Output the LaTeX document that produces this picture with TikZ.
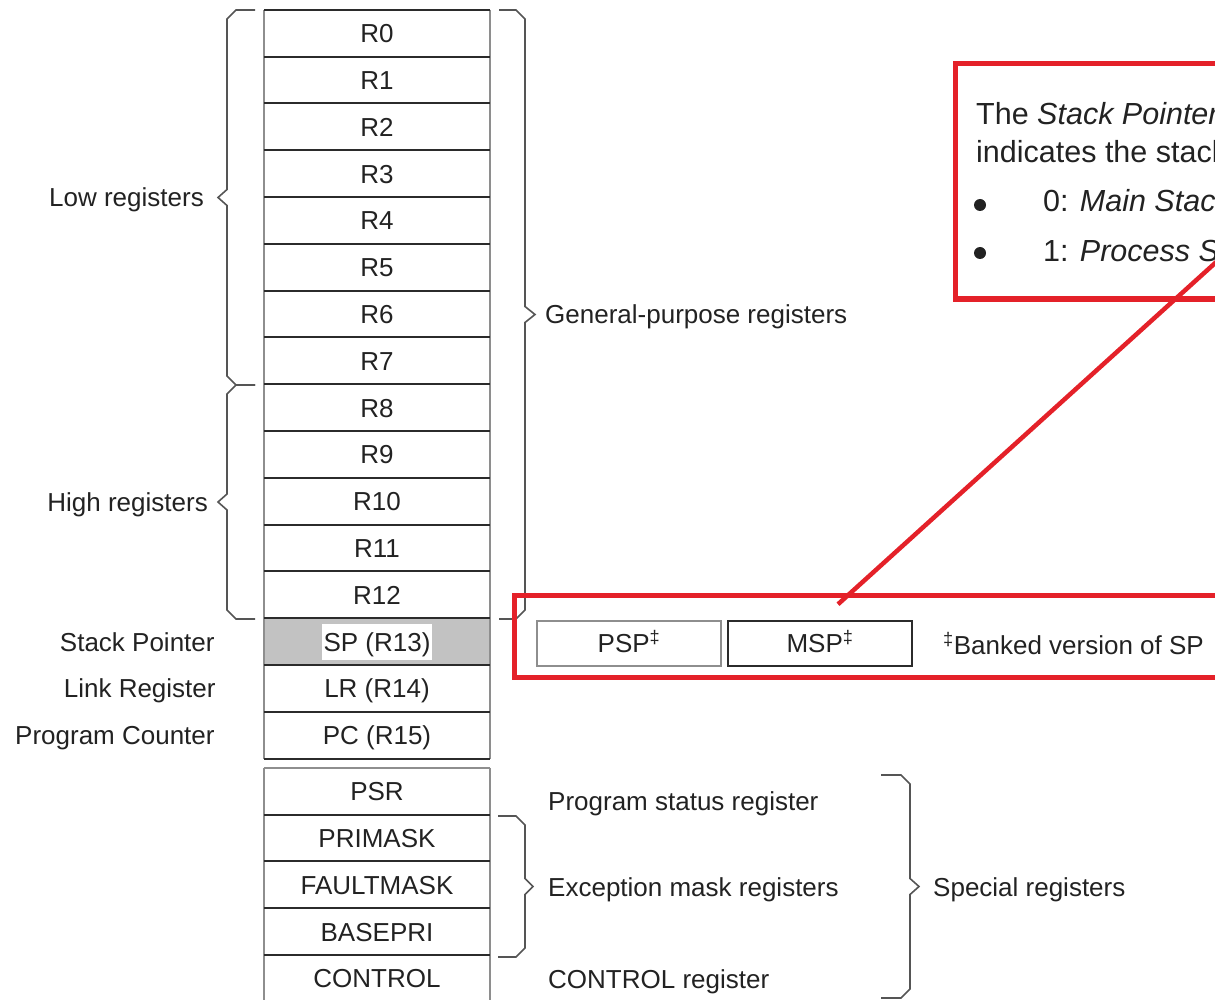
\documentclass[tikz,border=0pt]{standalone}
\usepackage{fontspec}
\setmainfont{Liberation Sans}
\usetikzlibrary{calc}

\definecolor{ink}{HTML}{222222}
\definecolor{rule}{HTML}{2B2B2B}
\definecolor{edge}{HTML}{8E8E8E}
\definecolor{bracegray}{HTML}{555555}
\definecolor{spgray}{HTML}{C2C2C2}
\definecolor{markred}{HTML}{E42129}

% chamfered curly brace: #1 x of open ends, #2 x of spine, #3 x of tip, #4 top y, #5 bottom y
\newcommand\chbrace[5]{%
  \draw[brace] (#1,#4) -- ({#2+9*sign(#1-#2)},#4) -- (#2,{#4+9})
    -- (#2,{(#4+#5)/2-8}) -- (#3,{(#4+#5)/2}) -- (#2,{(#4+#5)/2+8})
    -- (#2,{#5-9}) -- ({#2+9*sign(#1-#2)},#5) -- (#1,#5);}

\tikzset{
  lbl/.style={font=\fontsize{26}{30}\selectfont, text=ink, inner sep=0pt,
    text height=18.6pt, text depth=0pt},
  reg/.style={lbl, minimum width=226pt, minimum height=46.8pt},
  hsep/.style={draw=rule, line width=2pt},
  vsep/.style={draw=edge, line width=2pt},
  brace/.style={draw=bracegray, line width=1.6pt, line join=miter},
  bankbox/.style={lbl, line width=1.5pt, minimum width=184pt, minimum height=45pt},
  redmark/.style={draw=markred, line width=5pt},
  callout/.style={font=\fontsize{30.5}{36}\selectfont, text=ink,
    inner sep=0pt, anchor=base west},
  dot/.style={circle, fill=ink, inner sep=0pt, minimum size=12pt},
}

\begin{document}
\begin{tikzpicture}[x=1pt, y=-1pt]
\useasboundingbox (0,0) rectangle (1215,1000);
\clip (0,0) rectangle (1215,1000);

% core registers R0-R15
\foreach \n/\t [count=\i from 0] in {r0/R0,r1/R1,r2/R2,r3/R3,r4/R4,r5/R5,r6/R6,
    r7/R7,r8/R8,r9/R9,r10/R10,r11/R11,r12/R12}
  \node[reg] (\n) at (377,{10+46.8*(\i+0.5)}) {\t};
\node[reg, fill=spgray,
  label={[lbl, fill=white, inner xsep=2pt, inner ysep=8.7pt]center:SP (R13)}]
  (sp) at (377,{10+46.8*13.5}) {};
\node[reg] (lr) at (377,{10+46.8*14.5}) {LR (R14)};
\node[reg] (pc) at (377,{10+46.8*15.5}) {PC (R15)};

% special registers
\foreach \n/\t [count=\i from 0] in {psr/PSR,primask/PRIMASK,faultmask/FAULTMASK,
    basepri/BASEPRI,control/CONTROL}
  \node[reg] (\n) at (377,{768+46.8*(\i+0.5)}) {\t};

% column outlines
\draw[vsep] (r0.north west) -- (pc.south west);
\draw[vsep] (r0.north east) -- (pc.south east);
\foreach \n in {r0,r1,r2,r3,r4,r5,r6,r7,r8,r9,r10,r11,r12,sp,lr,pc}
  \draw[hsep] (\n.north west) -- (\n.north east);
\draw[hsep] (pc.south west) -- (pc.south east);

\draw[vsep] (psr.north west) -- (control.south west);
\draw[vsep] (psr.north east) -- (control.south east);
\draw[vsep] (psr.north west) -- (psr.north east);
\foreach \n in {primask,faultmask,basepri,control}
  \draw[hsep] (\n.north west) -- (\n.north east);

% braces
\chbrace{255}{227}{218}{10}{385}
\chbrace{255}{227}{218}{385}{619}
\chbrace{499}{525}{535}{10}{619}
\chbrace{498}{525}{533}{816}{957}
\chbrace{881}{910}{919}{775}{998}

% group labels
\node[lbl, anchor=east] (lowlbl) at (204,197.5) {Low registers};
\node[lbl, anchor=east] (highlbl) at (208,502) {High registers};
\node[lbl, anchor=west] (gplbl) at (545,314.5) {General-purpose registers};
\node[lbl, anchor=east] (splbl) at ($(sp.west)+(-49,0)$) {Stack Pointer};
\node[lbl, anchor=east] (lrlbl) at ($(lr.west)+(-48,0)$) {Link Register};
\node[lbl, anchor=east] (pclbl) at ($(pc.west)+(-49,0)$) {Program Counter};
\node[lbl, anchor=west] (psrlbl) at (548,801) {Program status register};
\node[lbl, anchor=west] (exclbl) at (548,887) {Exception mask registers};
\node[lbl, anchor=west] (ctllbl) at (548,979) {CONTROL register};
\node[lbl, anchor=west] (speclbl) at (933,887) {Special registers};

% banked stack pointers
\node[bankbox, draw=edge] (psp) at (629,643.5) {PSP\textsuperscript{‡}};
\node[bankbox, draw=rule] (msp) at (820,643.5) {MSP\textsuperscript{‡}};
\node[lbl, anchor=west] (banknote) at (943,645) {\textsuperscript{‡}Banked version of SP};

% callout about the stack pointer selection
\node[callout] (c1) at (976,125) {The \textit{Stack Pointer} (SP) is register R13};
\node[callout] (c2) at (976,163) {indicates the stack pointer to use:};
\node[dot] (b1) at (980,205) {};
\node[dot] (b2) at (980,253) {};
\node[callout] (c3) at (1043,212) {0: \textit{Main Stack Pointer}};
\node[callout] (c4) at (1043,262) {1: \textit{Process Stack Pointer}};

% red markings
\draw[redmark] (955,64) rectangle (1240,299);
\draw[redmark] (514,595) rectangle (1240,677);
\coordinate (ptrfoot) at ($(msp.north)+(18,-16)$);
\coordinate (ptrhead) at (1245,236);
\draw[redmark, line width=4.5pt] (ptrfoot) -- (ptrhead);
\end{tikzpicture}
\end{document}
